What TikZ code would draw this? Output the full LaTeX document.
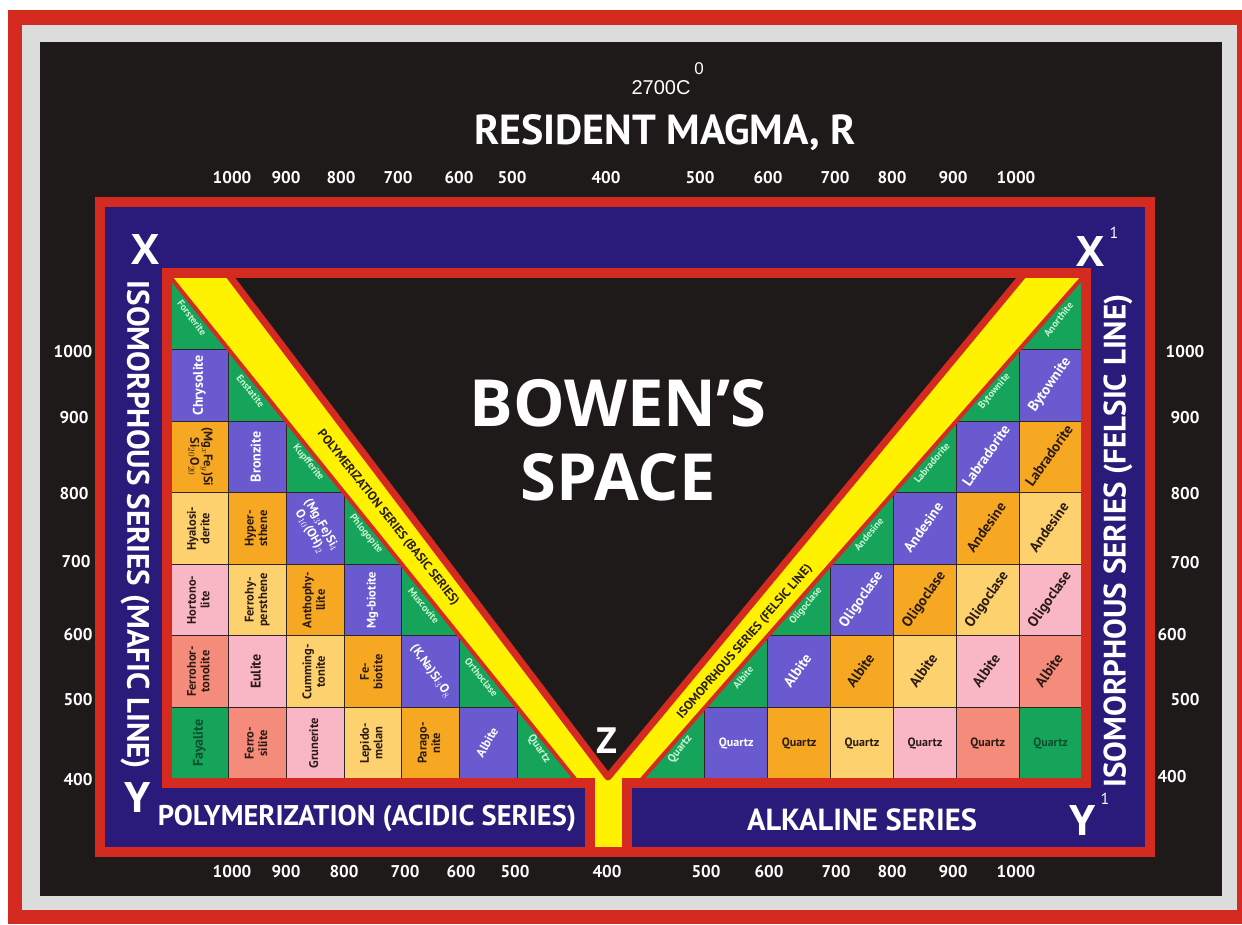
\documentclass[tikz,border=0pt]{standalone}
\usepackage{fontspec}
\setmainfont{PT Sans}
\newfontfamily\osans{Open Sans}
\newfontfamily\lsans{Liberation Sans}
\usetikzlibrary{calc}

\definecolor{cred}{HTML}{D42A20}
\definecolor{cnavy}{HTML}{2A1B7A}
\definecolor{cyel}{HTML}{FFF200}
\definecolor{cblk}{HTML}{1E1A1A}
\definecolor{cgray}{HTML}{DCDCDC}
\definecolor{cgrn}{HTML}{16A35A}
\definecolor{cpur}{HTML}{6A5ACF}
\definecolor{corg}{HTML}{F7A823}
\definecolor{clor}{HTML}{FCD16E}
\definecolor{cpnk}{HTML}{F9B6C4}
\definecolor{csal}{HTML}{F48B7B}
\definecolor{cline}{HTML}{2E2424}
\definecolor{tdark}{HTML}{2B1B12}
\definecolor{tgrn}{HTML}{C9F5D2}
\definecolor{tdgrn}{HTML}{0C4F2C}

\newcommand{\rtxt}[2]{\rotatebox{#1}{\begin{tabular}{@{}c@{}}#2\end{tabular}}}

\begin{document}
\begin{tikzpicture}[x=1pt, y=-1pt]
    \tikzset{
        cell/.style={draw=cline, line width=1.2pt, inner sep=0pt, minimum width=57.7pt, minimum height=71.6pt, font=\bfseries\fontsize{14}{15}\selectfont},
        rcell/.style={cell, minimum width=62.9pt, font=\bfseries\fontsize{14.5}{15}\selectfont},
        two/.style={font=\bfseries\fontsize{12.5}{13.5}\selectfont},
        small/.style={font=\bfseries\fontsize{12}{12}\selectfont},
        pur/.style={fill=cpur, text=white},
        org/.style={fill=corg, text=tdark},
        lor/.style={fill=clor, text=tdark},
        pnk/.style={fill=cpnk, text=tdark},
        sal/.style={fill=csal, text=tdark},
        grn/.style={fill=cgrn, text=tdgrn},
        tri/.style={inner sep=0pt, text=tgrn, font=\bfseries\fontsize{10}{10}\selectfont},
        num/.style={text=white, font=\bfseries\fontsize{17}{17}\selectfont},
        head/.style={text=white, font=\bfseries\fontsize{31}{31}\selectfont},
        big/.style={text=white, font=\osans\bfseries\fontsize{42}{42}\selectfont},
        band/.style={text=tdark, inner sep=0pt, font=\bfseries\fontsize{12.5}{13}\selectfont}
    }
    \useasboundingbox (0,0) rectangle (1242,924);
    \fill[white] (0,0) rectangle (1242,924);
    \fill[cred] (8,10) rectangle (1242,924);
    \fill[cgray] (22,25) rectangle (1237,910);
    \fill[cblk] (40,42) rectangle (1222,896);
    \filldraw[fill=cnavy, draw=cred, line width=10pt] (100,202) rectangle (1150,852);
    \fill[cyel] (167,273) rectangle (1086,783);

    % left grid (mafic)
    \fill[cgrn] (171,278) -- (171,779) -- (575,779) -- cycle;
    \node[cell, pur] (chrysolite) at (199.9,385.4) {\rtxt{90}{Chrysolite}};
    \node[cell, org, two] (mgfesi) at (199.9,456.9) {\rtxt{-90}{(Mg$_x$Fe$_y$)Si\\Si$_{20}$O$_{20}$}};
    \node[cell, lor, two] (hyalosiderite) at (199.9,528.5) {\rtxt{90}{Hyalosi-\\derite}};
    \node[cell, pnk, two] (hortonolite) at (199.9,600.1) {\rtxt{90}{Hortono-\\lite}};
    \node[cell, sal, two] (ferrohortonolite) at (199.9,671.6) {\rtxt{90}{Ferrohor-\\tonolite}};
    \node[cell, grn] (fayalite) at (199.9,743.2) {\rtxt{90}{Fayalite}};
    \node[cell, pur] (bronzite) at (257.6,456.9) {\rtxt{90}{Bronzite}};
    \node[cell, org, two] (hypersthene) at (257.6,528.5) {\rtxt{90}{Hyper-\\sthene}};
    \node[cell, lor, two] (ferrohypersthene) at (257.6,600.1) {\rtxt{90}{Ferrohy-\\persthene}};
    \node[cell, pnk] (eulite) at (257.6,671.6) {\rtxt{90}{Eulite}};
    \node[cell, sal, two] (ferrosilite) at (257.6,743.2) {\rtxt{90}{Ferro-\\silite}};
    \node[cell, pur, two] (mgfesio) at (315.3,528.5) {\rtxt{-60}{(Mg$_3$Fe)Si$_4$\\O$_{10}$(OH)$_2$}};
    \node[cell, org, two] (anthophyllite) at (315.3,600.1) {\rtxt{90}{Anthophy-\\llite}};
    \node[cell, lor, two] (cummingtonite) at (315.3,671.6) {\rtxt{90}{Cumming-\\tonite}};
    \node[cell, pnk, two] (grunerite) at (315.3,743.2) {\rtxt{90}{Grunerite}};
    \node[cell, pur, two] (mgbiotite) at (373.0,600.1) {\rtxt{90}{Mg-biotite}};
    \node[cell, org, two] (febiotite) at (373.0,671.6) {\rtxt{90}{Fe-\\biotite}};
    \node[cell, lor, two] (lepidomelan) at (373.0,743.2) {\rtxt{90}{Lepido-\\melan}};
    \node[cell, pur, two] (knasi) at (430.7,671.6) {\rtxt{-55}{(K,Na)Si$_3$O$_8$}};
    \node[cell, org, two] (paragonite) at (430.7,743.2) {\rtxt{90}{Parago-\\nite}};
    \node[cell, pur, two] (albitel) at (488.4,743.2) {\rtxt{60}{Albite}};
    \node[tri, rotate=-53] (forsterite) at (192.0,318.0) {Forsterite};
    \node[tri, rotate=-51] (enstatite) at (250.6,391.0) {Enstatite};
    \node[tri, rotate=-51] (kupfferite) at (308.3,462.5) {Kupfferite};
    \node[tri, rotate=-51] (phlogopite) at (366.0,534.1) {Phlogopite};
    \node[tri, rotate=-51] (muscovite) at (423.7,605.7) {Muscovite};
    \node[tri, rotate=-51] (orthoclase) at (481.4,677.2) {Orthoclase};
    \node[tri, rotate=-56, font=\bfseries\fontsize{11}{11}\selectfont] (quartzl) at (539.1,748.8) {Quartz};

    % right grid (felsic)
    \fill[cgrn] (1082,278) -- (1082,779) -- (642,779) -- cycle;
    \node[rcell, pur] (bytownite) at (1050.6,385.4) {\rtxt{55}{Bytownite}};
    \node[rcell, org] (labradorite1) at (1050.6,456.9) {\rtxt{55}{Labradorite}};
    \node[rcell, pur] (labradorite2) at (987.7,456.9) {\rtxt{55}{Labradorite}};
    \node[rcell, lor] (andesine1) at (1050.6,528.5) {\rtxt{55}{Andesine}};
    \node[rcell, org] (andesine2) at (987.7,528.5) {\rtxt{55}{Andesine}};
    \node[rcell, pur] (andesine3) at (924.9,528.5) {\rtxt{55}{Andesine}};
    \node[rcell, pnk] (oligoclase1) at (1050.6,600.1) {\rtxt{55}{Oligoclase}};
    \node[rcell, lor] (oligoclase2) at (987.7,600.1) {\rtxt{55}{Oligoclase}};
    \node[rcell, org] (oligoclase3) at (924.9,600.1) {\rtxt{55}{Oligoclase}};
    \node[rcell, pur] (oligoclase4) at (862.0,600.1) {\rtxt{55}{Oligoclase}};
    \node[rcell, sal] (albite1) at (1050.6,671.6) {\rtxt{55}{Albite}};
    \node[rcell, pnk] (albite2) at (987.7,671.6) {\rtxt{55}{Albite}};
    \node[rcell, lor] (albite3) at (924.9,671.6) {\rtxt{55}{Albite}};
    \node[rcell, org] (albite4) at (862.0,671.6) {\rtxt{55}{Albite}};
    \node[rcell, pur] (albite5) at (799.1,671.6) {\rtxt{55}{Albite}};
    \node[rcell, grn, small] (quartz1) at (1050.6,743.2) {Quartz};
    \node[rcell, sal, small] (quartz2) at (987.7,743.2) {Quartz};
    \node[rcell, pnk, small] (quartz3) at (924.9,743.2) {Quartz};
    \node[rcell, lor, small] (quartz4) at (862.0,743.2) {Quartz};
    \node[rcell, org, small] (quartz5) at (799.1,743.2) {Quartz};
    \node[rcell, pur, small] (quartz6) at (736.3,743.2) {Quartz};
    \node[tri, rotate=52] (anorthite) at (1058.4,319.7) {Anorthite};
    \node[tri, rotate=50] (bytownitet) at (994.5,391.3) {Bytownite};
    \node[tri, rotate=50] (labradoritet) at (931.7,462.8) {Labradorite};
    \node[tri, rotate=50] (andesinet) at (868.8,534.4) {Andesine};
    \node[tri, rotate=50] (oligoclaset) at (805.9,606.0) {Oligoclase};
    \node[tri, rotate=50] (albitet) at (743.1,677.5) {Albite};
    \node[tri, rotate=52, font=\bfseries\fontsize{11}{11}\selectfont] (quartzr) at (680.2,749.1) {Quartz};

    % the Y of yellow bands, black space, red frames
    \draw[cred, line width=4pt] (171,278) -- (575,779);
    \draw[cred, line width=4pt] (1082,278) -- (642,779);
    \fill[cyel] (595,770) rectangle (622,847);
    \filldraw[fill=cblk, draw=cred, line width=7pt, line join=round] (228,274) -- (1024,274) -- (608,777) -- cycle;
    \draw[cred, line width=10pt] (590,852) -- (590,783) -- (167,783) -- (167,273) -- (1086,273) -- (1086,783) -- (627,783) -- (627,852);

    \node[band, rotate=-51.6] (basic) at (388,518) {POLYMERIZATION SERIES (BASIC SERIES)};
    \node[band, rotate=49.2] (felsic) at (745,642) {ISOMOPRHOUS SERIES (FELSIC LINE)};

    % titles and letters
    \node[text=white, font=\lsans\fontsize{20}{20}\selectfont] (temp) at (661,88) {2700C};
    \node[text=white, font=\lsans\fontsize{17}{17}\selectfont] (tempdeg) at (699,69) {0};
    \node[head, font=\bfseries\fontsize{42}{42}\selectfont] (magma) at (665,133) {RESIDENT MAGMA, R};
    \node[big, font=\osans\bfseries\fontsize{65}{74}\selectfont, align=center] (space) at (618,440) {BOWEN’S\\SPACE};
    \node[big] (x) at (146,250) {X};
    \node[big] (x1) at (1090,252) {X};
    \node[text=white, font=\fontsize{16}{16}\selectfont] (x1s) at (1114,233) {1};
    \node[big] (y) at (138,797) {Y};
    \node[big] (y1) at (1083,820) {Y};
    \node[text=white, font=\fontsize{16}{16}\selectfont] (y1s) at (1105,799) {1};
    \node[big, font=\osans\bfseries\fontsize{36}{36}\selectfont] (z) at (607,741) {Z};
    \node[head, rotate=-90] (mafic) at (135,525) {ISOMORPHOUS SERIES (MAFIC LINE)};
    \node[head, rotate=90] (felsicline) at (1118,541) {ISOMORPHOUS SERIES (FELSIC LINE)};
    \node[head, font=\bfseries\fontsize{28.5}{28.5}\selectfont] (acidic) at (367,818) {POLYMERIZATION (ACIDIC SERIES)};
    \node[head, font=\bfseries\fontsize{30.5}{30.5}\selectfont] (alkaline) at (862,820) {ALKALINE SERIES};

    % temperature scales
    \node[num] (t1) at (232,178) {1000};
    \node[num] (t2) at (286,178) {900};
    \node[num] (t3) at (341,178) {800};
    \node[num] (t4) at (398,178) {700};
    \node[num] (t5) at (459,178) {600};
    \node[num] (t6) at (512,178) {500};
    \node[num] (t7) at (606,178) {400};
    \node[num] (t8) at (700,178) {500};
    \node[num] (t9) at (768,178) {600};
    \node[num] (t10) at (835,178) {700};
    \node[num] (t11) at (892,178) {800};
    \node[num] (t12) at (953,178) {900};
    \node[num] (t13) at (1016,178) {1000};
    \node[num] (b1) at (232,872) {1000};
    \node[num] (b2) at (286,872) {900};
    \node[num] (b3) at (344,872) {800};
    \node[num] (b4) at (405,872) {700};
    \node[num] (b5) at (461,872) {600};
    \node[num] (b6) at (515,872) {500};
    \node[num] (b7) at (607,872) {400};
    \node[num] (b8) at (706,872) {500};
    \node[num] (b9) at (769,872) {600};
    \node[num] (b10) at (836,872) {700};
    \node[num] (b11) at (892,872) {800};
    \node[num] (b12) at (953,872) {900};
    \node[num] (b13) at (1016,872) {1000};
    \node[num] (l1) at (73,352) {1000};
    \node[num] (l2) at (74,418) {900};
    \node[num] (l3) at (74,494) {800};
    \node[num] (l4) at (76,562) {700};
    \node[num] (l5) at (78,635) {600};
    \node[num] (l6) at (78,700) {500};
    \node[num] (l7) at (78,780) {400};
    \node[num] (r1) at (1185,352) {1000};
    \node[num] (r2) at (1185,418) {900};
    \node[num] (r3) at (1185,494) {800};
    \node[num] (r4) at (1185,563) {700};
    \node[num] (r5) at (1172,635) {600};
    \node[num] (r6) at (1185,700) {500};
    \node[num] (r7) at (1172,777) {400};
\end{tikzpicture}
\end{document}
